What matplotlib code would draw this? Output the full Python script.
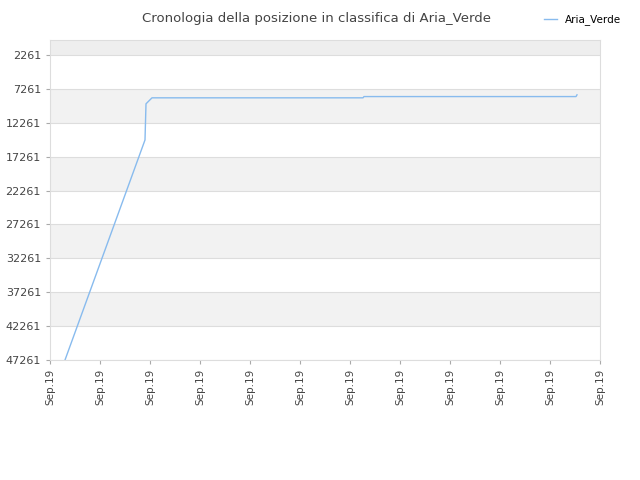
import matplotlib
matplotlib.use("Agg")
import matplotlib.pyplot as plt

x_pos = [0.3, 1.9, 1.92, 2.04, 6.26, 6.28, 10.52, 10.54]
ranks = [47261, 14800, 9467, 8585, 8585, 8400, 8400, 8144]
tick_labels = ["Sep.19"] * 12
y_ticks = [2261, 7261, 12261, 17261, 22261, 27261, 32261, 37261, 42261, 47261]

fig = plt.figure(figsize=(6.4, 4.8), dpi=100)
ax = fig.add_axes([50/640, 120/480, 550/640, 320/480])
ax.set_xlim(0, 11)
ax.set_ylim(47261, 55)
edges = [55] + y_ticks
for i in range(len(edges) - 1):
    if i % 2 == 0:
        ax.axhspan(edges[i], edges[i+1], color="#eeeeee" if i == 0 else "#f2f2f2", zorder=0, lw=0)
for y in y_ticks:
    ax.axhline(y, color="#dddddd", lw=0.8, zorder=0.5)
ax.plot(x_pos, ranks, color="#88bbee", lw=1, label="Aria_Verde")
ax.set_xticks(range(12))
ax.set_xticklabels(tick_labels, rotation=90, fontsize=7.5, color="#444444")
ax.set_yticks(y_ticks)
ax.set_yticklabels([str(v) for v in y_ticks], fontsize=8, color="#444444")
for s in ax.spines.values():
    s.set_color("#dddddd")
ax.tick_params(colors="#aaaaaa", length=3, labelcolor="#444444")
fig.text(0.494, 0.975, "Cronologia della posizione in classifica di Aria_Verde", ha="center", va="top", fontsize=9.5, color="#444444")
fig.legend(loc="upper right", bbox_to_anchor=(0.985, 0.99), frameon=False, fontsize=7.5, handlelength=1.2)
fig.savefig("out.png")
